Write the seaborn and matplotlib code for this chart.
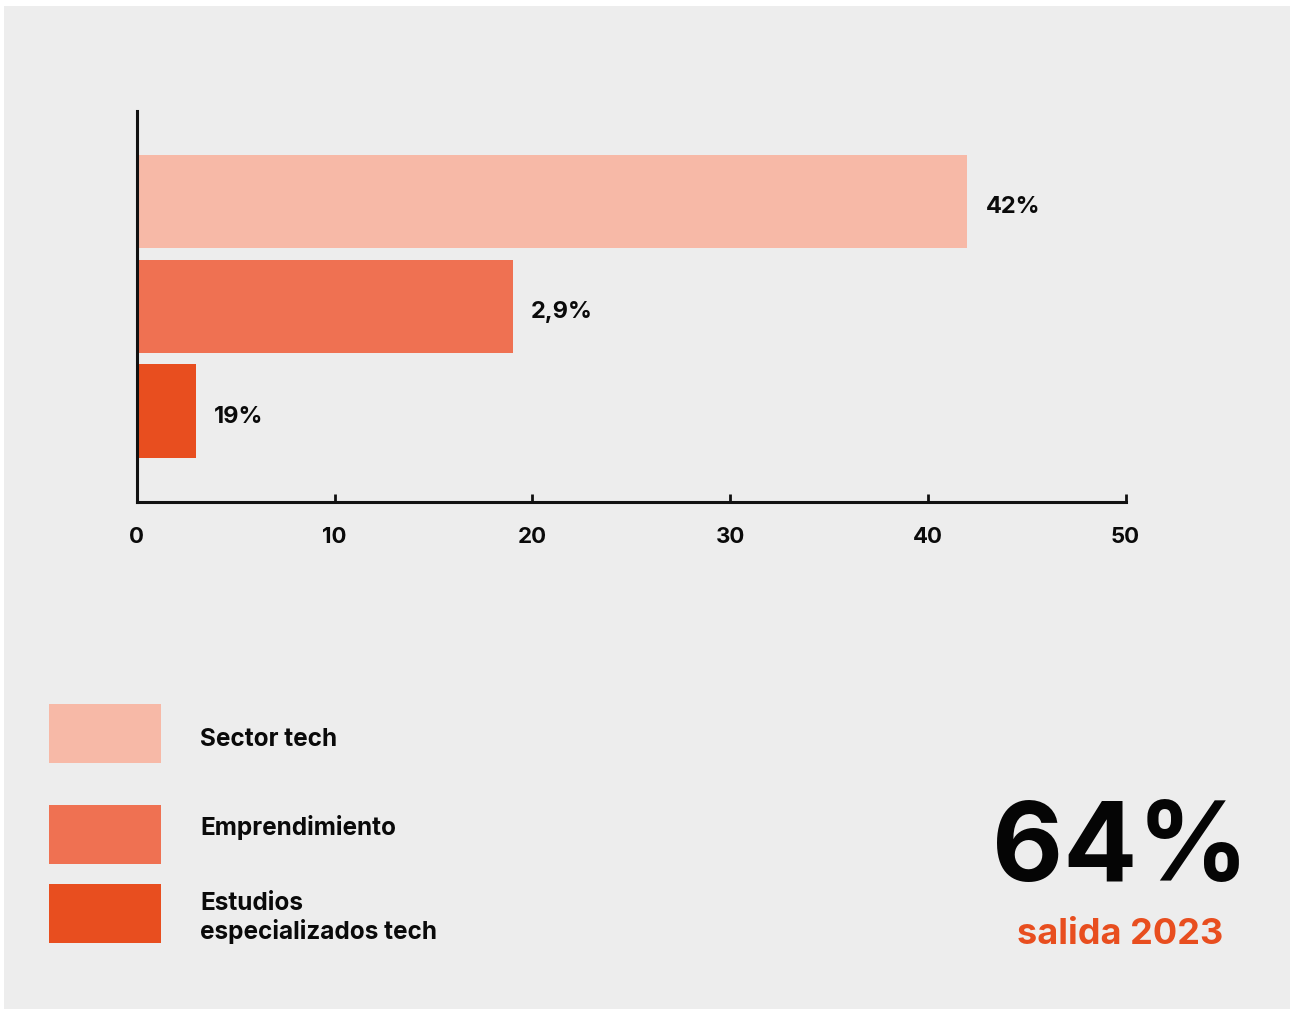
import pandas as pd
import seaborn as sns
from matplotlib import pyplot as plt
from matplotlib.patches import Rectangle

categories = ["Sector tech", "Emprendimiento", "Estudios especializados tech"]
values = [42, 19, 3]
bar_labels = ["42%", "2,9%", "19%"]
legend_labels = ["Sector tech", "Emprendimiento", "Estudios\nespecializados tech"]
colors = ["#F7B9A7", "#EF7152", "#E84E1F"]
xticks = [0, 10, 20, 30, 40, 50]

bg = "#EDEDED"

sns.set_theme(style="white")
plt.rcParams['font.family'] = ['Inter', 'DejaVu Sans']

df = pd.DataFrame({"cat": categories, "val": values})

fig = plt.figure(figsize=(12.9, 10.09), dpi=100, facecolor="white")
fig.add_artist(Rectangle((4 / 1290, 0), 1, 1 - 6 / 1009, transform=fig.transFigure,
                         facecolor=bg, edgecolor="none", zorder=-10))

ax = fig.add_axes([0.1062, 0.5028, 0.7664, 0.3872])
ax.set_facecolor(bg)
ax.patch.set_alpha(0)

sns.barplot(data=df, y="cat", x="val", hue="cat", palette=colors, order=categories,
            hue_order=categories, width=0.89, legend=False, saturation=1,
            linewidth=0, edgecolor="none", ax=ax)

for cont, lab in zip(ax.containers, bar_labels):
    txts = ax.bar_label(cont, labels=[lab], padding=13, fontsize=17, fontweight="bold", color="#0A0A0A")
    for t in txts:
        t.xyann = (13, -4)

ax.set_xlim(0, 50)
ax.set_ylim(2.866, -0.866)
ax.set_xticks(xticks)
ax.set_xticklabels([str(t) for t in xticks], fontsize=16, fontweight="bold", color="#0A0A0A")
ax.set_yticks([])
ax.set_xlabel("")
ax.set_ylabel("")
ax.tick_params(axis="x", direction="in", length=6, width=2, color="#111111", pad=18, bottom=True)
sns.despine(ax=ax, top=True, right=True)
for s in ["left", "bottom"]:
    ax.spines[s].set_color("#111111")
    ax.spines[s].set_linewidth(2.2)

# legend
W, H = 1290, 1009
box_tops = [704, 805, 884]
text_y = [739, 828, 918]
for top, ty, col, lab in zip(box_tops, text_y, colors, legend_labels):
    fig.add_artist(Rectangle((49 / W, 1 - (top + 59) / H), 112 / W, 59 / H,
                             transform=fig.transFigure, facecolor=col, edgecolor="none"))
    fig.text(200 / W, 1 - ty / H, lab, fontsize=17.5, fontweight="bold", color="#0A0A0A",
             va="center", ha="left", linespacing=1.22)

fig.text(1120 / W, 1 - 852 / H, "64%", fontsize=79, fontweight="bold", color="#050505",
         ha="center", va="center")
fig.text(1120 / W, 1 - 935 / H, "salida 2023", fontsize=26, fontweight="bold", color="#E84E1F",
         ha="center", va="center")

fig.savefig("out.png", dpi=100, facecolor="white")
